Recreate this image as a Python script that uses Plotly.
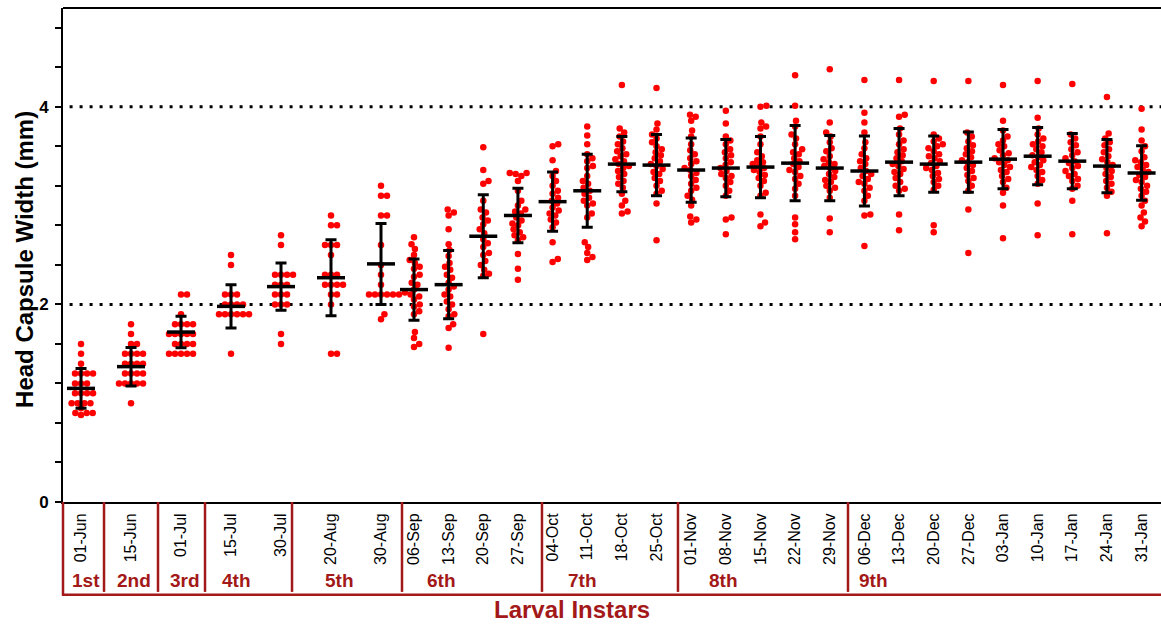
import math
import plotly.graph_objects as go

# ---------------- data ----------------
dates = ["01-Jun", "15-Jun", "01-Jul", "15-Jul", "30-Jul", "20-Aug", "30-Aug",
         "06-Sep", "13-Sep", "20-Sep", "27-Sep", "04-Oct", "11-Oct", "18-Oct",
         "25-Oct", "01-Nov", "08-Nov", "15-Nov", "22-Nov", "29-Nov", "06-Dec",
         "13-Dec", "20-Dec", "27-Dec", "03-Jan", "10-Jan", "17-Jan", "24-Jan",
         "31-Jan"]

w_01jun = [1.6, 1.5, 1.4, 1.3, 1.3, 1.3, 1.3, 1.2, 1.2, 1.2, 1.1, 1.1, 1.1, 1.1,
           1.0, 1.0, 1.0, 1.0, 0.95, 0.9, 0.9, 0.9, 0.88]
w_15jun = [1.8, 1.7, 1.6, 1.6, 1.5, 1.5, 1.5, 1.5, 1.4, 1.4, 1.4, 1.4, 1.3, 1.3,
           1.3, 1.3, 1.2, 1.2, 1.2, 1.2, 1.2, 1.0]
w_01jul = [2.1, 2.1, 1.9, 1.8, 1.8, 1.8, 1.8, 1.7, 1.7, 1.7, 1.7, 1.7, 1.6, 1.6,
           1.6, 1.6, 1.5, 1.5, 1.5, 1.5, 1.5]
w_15jul = [2.5, 2.4, 2.1, 2.1, 2.1, 2.0, 2.0, 2.0, 2.0, 1.9, 1.9, 1.9, 1.9, 1.9,
           1.9, 1.5]
w_30jul = [2.7, 2.6, 2.3, 2.3, 2.3, 2.3, 2.2, 2.2, 2.2, 2.1, 2.1, 2.1, 2.0, 2.0,
           2.0, 1.7, 1.6]
w_20aug = [2.9, 2.8, 2.8, 2.6, 2.6, 2.6, 2.5, 2.3, 2.3, 2.3, 2.2, 2.2, 2.2, 2.2,
           2.1, 2.1, 2.0, 1.5, 1.5]
w_30aug = [3.2, 3.1, 3.1, 2.9, 2.9, 2.6, 2.4, 2.3, 2.2, 2.1, 2.1, 2.1, 2.1, 2.1,
           2.1, 1.9, 1.85]
w_06sep = [2.68, 2.61, 2.56, 2.50, 2.45, 2.42, 2.38, 2.36, 2.30, 2.28, 2.22, 2.20,
           2.15, 2.12, 2.10, 2.08, 2.05, 2.0, 1.98, 1.93, 1.90, 1.72, 1.66, 1.60,
           1.57]
w_13sep = [2.96, 2.93, 2.90, 2.76, 2.61, 2.55, 2.49, 2.42, 2.38, 2.35, 2.30, 2.27,
           2.22, 2.18, 2.15, 2.10, 2.08, 2.03, 2.0, 1.95, 1.90, 1.88, 1.80, 1.76,
           1.56]
w_20sep = [3.59, 3.36, 3.25, 3.22, 3.05, 2.96, 2.93, 2.88, 2.85, 2.81, 2.76, 2.72,
           2.66, 2.62, 2.58, 2.52, 2.50, 2.44, 2.40, 2.35, 2.31, 2.29, 1.70]
w_27sep = [3.33, 3.33, 3.32, 3.30, 3.25, 3.15, 3.05, 3.00, 2.96, 2.94, 2.92, 2.88,
           2.85, 2.82, 2.80, 2.76, 2.73, 2.70, 2.68, 2.65, 2.51, 2.36, 2.25]
w_04oct = [3.62, 3.60, 3.46, 3.35, 3.30, 3.25, 3.20, 3.15, 3.12, 3.08, 3.05, 3.02,
           2.98, 2.95, 2.92, 2.90, 2.86, 2.83, 2.78, 2.63, 2.46, 2.43]
w_11oct = [3.80, 3.71, 3.62, 3.52, 3.48, 3.45, 3.40, 3.38, 3.30, 3.25, 3.22, 3.18,
           3.15, 3.12, 3.08, 3.05, 3.02, 3.00, 2.92, 2.88, 2.63, 2.58, 2.52, 2.48,
           2.45]
w_18oct = [4.22, 3.78, 3.74, 3.70, 3.65, 3.62, 3.58, 3.55, 3.52, 3.50, 3.47, 3.45,
           3.42, 3.40, 3.38, 3.35, 3.32, 3.29, 3.25, 3.22, 3.18, 3.12, 3.05, 3.00,
           2.94, 2.92]
w_25oct = [4.19, 3.83, 3.77, 3.72, 3.68, 3.64, 3.60, 3.57, 3.54, 3.51, 3.48, 3.45,
           3.42, 3.40, 3.37, 3.34, 3.32, 3.28, 3.25, 3.20, 3.15, 3.12, 3.02, 2.65]
w_01nov = [3.92, 3.90, 3.86, 3.76, 3.70, 3.62, 3.56, 3.52, 3.48, 3.45, 3.42, 3.38,
           3.36, 3.33, 3.30, 3.26, 3.22, 3.18, 3.15, 3.10, 3.06, 3.00, 2.89, 2.86,
           2.83]
w_08nov = [3.96, 3.83, 3.70, 3.66, 3.62, 3.57, 3.54, 3.51, 3.48, 3.44, 3.41, 3.38,
           3.35, 3.32, 3.30, 3.28, 3.24, 3.20, 3.15, 3.10, 2.88, 2.86, 2.71]
w_15nov = [4.01, 4.00, 3.84, 3.80, 3.78, 3.70, 3.62, 3.54, 3.50, 3.46, 3.44, 3.42,
           3.40, 3.38, 3.36, 3.34, 3.31, 3.28, 3.25, 3.20, 3.13, 3.10, 2.91, 2.83,
           2.79]
w_22nov = [4.32, 4.01, 3.86, 3.80, 3.72, 3.68, 3.62, 3.57, 3.54, 3.52, 3.48, 3.45,
           3.42, 3.39, 3.36, 3.34, 3.30, 3.27, 3.22, 3.17, 3.10, 2.88, 2.81, 2.73,
           2.66]
w_29nov = [4.38, 3.84, 3.74, 3.70, 3.64, 3.58, 3.55, 3.50, 3.47, 3.44, 3.42, 3.40,
           3.38, 3.35, 3.32, 3.29, 3.26, 3.24, 3.20, 3.18, 3.15, 3.08, 2.87, 2.73]
w_06dec = [4.27, 3.94, 3.84, 3.74, 3.64, 3.58, 3.52, 3.48, 3.45, 3.42, 3.38, 3.35,
           3.32, 3.30, 3.27, 3.24, 3.22, 3.18, 3.15, 3.10, 3.05, 2.91, 2.90, 2.59]
w_13dec = [4.27, 3.92, 3.90, 3.78, 3.72, 3.66, 3.62, 3.57, 3.54, 3.51, 3.48, 3.45,
           3.42, 3.40, 3.37, 3.34, 3.32, 3.28, 3.24, 3.20, 3.17, 3.15, 2.91, 2.75]
w_20dec = [4.26, 3.72, 3.68, 3.65, 3.62, 3.60, 3.58, 3.55, 3.52, 3.50, 3.48, 3.45,
           3.43, 3.40, 3.38, 3.36, 3.33, 3.30, 3.27, 3.24, 3.20, 3.16, 2.80, 2.73]
w_27dec = [4.26, 3.74, 3.70, 3.65, 3.61, 3.58, 3.55, 3.52, 3.49, 3.46, 3.44, 3.41,
           3.38, 3.35, 3.31, 3.28, 3.25, 3.20, 3.15, 2.96, 2.52]
w_03jan = [4.22, 3.86, 3.76, 3.70, 3.66, 3.62, 3.60, 3.56, 3.53, 3.51, 3.48, 3.46,
           3.44, 3.41, 3.39, 3.36, 3.34, 3.30, 3.27, 3.24, 3.18, 3.13, 3.00, 2.67]
w_10jan = [4.26, 3.89, 3.78, 3.72, 3.68, 3.65, 3.62, 3.60, 3.57, 3.54, 3.51, 3.49,
           3.46, 3.44, 3.41, 3.39, 3.36, 3.34, 3.30, 3.26, 3.22, 3.02, 2.70]
w_17jan = [4.23, 3.72, 3.68, 3.64, 3.61, 3.57, 3.54, 3.51, 3.48, 3.45, 3.43, 3.40,
           3.38, 3.35, 3.32, 3.30, 3.27, 3.25, 3.20, 3.17, 3.05, 2.71]
w_24jan = [4.10, 3.73, 3.68, 3.64, 3.61, 3.57, 3.54, 3.50, 3.47, 3.44, 3.41, 3.38,
           3.35, 3.32, 3.29, 3.25, 3.22, 3.18, 3.14, 3.10, 2.72]
w_31jan = [3.98, 3.77, 3.66, 3.60, 3.55, 3.49, 3.46, 3.44, 3.41, 3.39, 3.36, 3.34,
           3.31, 3.29, 3.26, 3.24, 3.20, 3.17, 3.14, 3.10, 3.05, 3.00, 2.93, 2.88,
           2.84, 2.79]

means = [1.15, 1.37, 1.72, 1.98, 2.18, 2.27, 2.41, 2.15, 2.20, 2.69, 2.90, 3.04,
         3.15, 3.42, 3.41, 3.36, 3.38, 3.39, 3.43, 3.38, 3.35, 3.44, 3.42, 3.44,
         3.47, 3.50, 3.45, 3.40, 3.33]
sds = [0.20, 0.195, 0.16, 0.22, 0.24, 0.385, 0.41, 0.31, 0.345, 0.42, 0.275, 0.30,
       0.37, 0.28, 0.31, 0.325, 0.29, 0.31, 0.38, 0.33, 0.355, 0.34, 0.285, 0.305,
       0.30, 0.29, 0.28, 0.27, 0.275]

instars = ["1st", "2nd", "3rd", "4th", "5th", "6th", "7th", "8th", "9th"]

groups = [w_01jun, w_15jun, w_01jul, w_15jul, w_30jul, w_20aug, w_30aug,
          w_06sep, w_13sep, w_20sep, w_27sep, w_04oct, w_11oct, w_18oct,
          w_25oct, w_01nov, w_08nov, w_15nov, w_22nov, w_29nov, w_06dec,
          w_13dec, w_20dec, w_27dec, w_03jan, w_10jan, w_17jan, w_24jan,
          w_31jan]

# ---------------- layout constants (positions on the x scale) ----------------
gaps = [1.443] * 6 + [0.952] + [1.0] * 21
x_pos = [0.0]
for g in gaps:
    x_pos.append(x_pos[-1] + g)
separators = [0.664, 2.222, 3.579, 6.090, 9.264, 13.304, 17.229, 22.136]
instar_x = [0.144, 1.53, 3.00, 4.50, 7.47, 10.39, 14.46, 18.53, 22.86]

W, H = 1161, 626
ML, MR, MT, MB = 63, 0, 8, 124
X_RANGE = [-0.52, 31.17]
Y_RANGE = [0, 5]
PX_X = (W - ML - MR) / (X_RANGE[1] - X_RANGE[0])
PX_Y = (H - MT - MB) / (Y_RANGE[1] - Y_RANGE[0])
DOT = 6.0
DARKRED = "#A31818"
FONT = "Liberation Sans, Arial, sans-serif"


def swarm(vals):
    """Deterministic beeswarm offsets (in x units) for one column."""
    order = sorted(range(len(vals)), key=lambda i: (vals[i], i))
    placed = []
    offs = [0.0] * len(vals)
    for i in order:
        y = vals[i] * PX_Y
        cands = [0.0]
        for (px_, py_) in placed:
            dy = abs(py_ - y)
            if dy < DOT:
                dx = math.sqrt(DOT ** 2 - dy ** 2)
                cands += [px_ + dx, px_ - dx]
        cands.sort(key=abs)
        chosen = cands[-1]
        for c in cands:
            if all((c - a) ** 2 + (y - b) ** 2 >= DOT ** 2 - 1e-6 for a, b in placed):
                chosen = c
                break
        placed.append((chosen, y))
        offs[i] = chosen / PX_X
    return offs


pts_x, pts_y = [], []
for xp, vals in zip(x_pos, groups):
    for o, v in zip(swarm(vals), vals):
        pts_x.append(xp + o)
        pts_y.append(v)

fig = go.Figure()
fig.add_trace(go.Scatter(
    x=pts_x, y=pts_y, mode="markers",
    marker=dict(color="#FF0000", size=6.5, line=dict(width=0)),
    hoverinfo="skip", showlegend=False))
fig.add_trace(go.Scatter(
    x=x_pos, y=means, mode="markers",
    marker=dict(symbol="line-ew", size=20, line=dict(width=3.5, color="black")),
    error_y=dict(type="data", array=sds, visible=True, color="black",
                 thickness=3, width=5.5),
    showlegend=False))

shapes = []
for yv in (2, 4):
    shapes.append(dict(type="line", xref="paper", yref="y", x0=0.006, x1=1,
                       y0=yv, y1=yv, layer="below",
                       line=dict(color="black", width=3, dash="3px,7px")))
# top frame
shapes.append(dict(type="line", xref="paper", yref="paper", x0=0, x1=1, y0=1, y1=1,
                   line=dict(color="black", width=2)))
# bracket below the axis
yb = -0.188
shapes.append(dict(type="line", xref="paper", yref="paper", x0=0, x1=0, y0=0, y1=yb,
                   line=dict(color=DARKRED, width=2.5)))
shapes.append(dict(type="line", xref="paper", yref="paper", x0=-0.001, x1=1, y0=yb,
                   y1=yb, line=dict(color=DARKRED, width=2.5)))
for s in separators:
    shapes.append(dict(type="line", xref="x", yref="paper", x0=s, x1=s, y0=0,
                       y1=yb + 0.006, line=dict(color=DARKRED, width=2.5)))

annotations = []
for name, xi in zip(instars, instar_x):
    annotations.append(dict(x=xi, y=-0.158, xref="x", yref="paper", text=name,
                            showarrow=False, xanchor="center", yanchor="middle",
                            font=dict(family=FONT, size=19, color=DARKRED,
                                      weight="bold")))
annotations.append(dict(x=14.17, y=-0.217, xref="x", yref="paper",
                        text="Larval Instars", showarrow=False, xanchor="center",
                        yanchor="middle",
                        font=dict(family=FONT, size=24, color=DARKRED,
                                  weight="bold")))
annotations.append(dict(x=(25 - ML) / (W - ML - MR), y=0.49, xref="paper",
                        yref="paper", text="Head Capsule Width (mm)",
                        textangle=-90, showarrow=False, xanchor="center",
                        yanchor="middle",
                        font=dict(family=FONT, size=24, color="black",
                                  weight="bold")))

ytick_vals = [round(0.4 * i, 1) for i in range(13)]
ytick_text = [("%d" % v) if abs(v - round(v)) < 1e-9 and int(round(v)) % 2 == 0 else ""
              for v in ytick_vals]

fig.update_layout(
    width=W, height=H,
    margin=dict(l=ML, r=MR, t=MT, b=MB, pad=0),
    paper_bgcolor="white", plot_bgcolor="white",
    shapes=shapes, annotations=annotations,
    xaxis=dict(range=X_RANGE, tickmode="array", tickvals=x_pos, ticktext=dates,
               tickangle=-90, ticks="", showgrid=False, zeroline=False,
               showline=True, linecolor="black", linewidth=2,
               ticklabelstandoff=3,
               tickfont=dict(family=FONT, size=16, color="black")),
    yaxis=dict(range=Y_RANGE, tickmode="array", tickvals=ytick_vals,
               ticktext=ytick_text, ticks="outside", ticklen=6, tickwidth=2,
               tickcolor="black", showgrid=False, zeroline=False,
               showline=True, linecolor="black", linewidth=2,
               ticklabelstandoff=3,
               tickfont=dict(family=FONT, size=17, color="black", weight="bold")),
)

fig.write_html("out.html")
